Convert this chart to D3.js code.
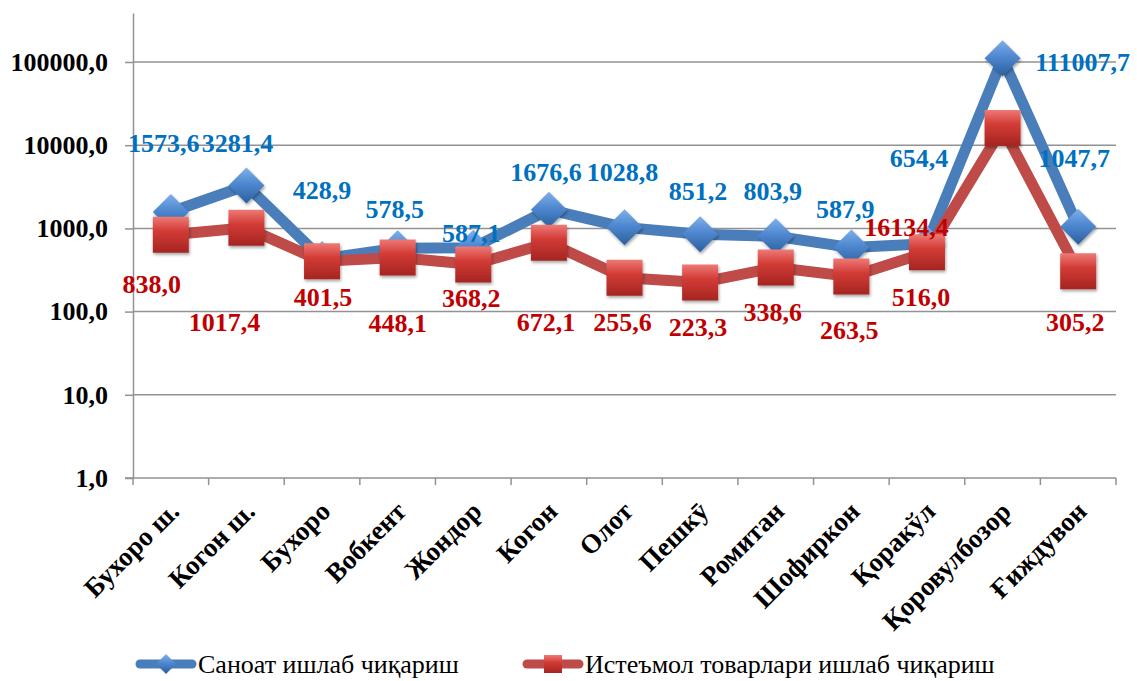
<!DOCTYPE html>
<html>
<head>
<meta charset="utf-8">
<script src="https://cdn.jsdelivr.net/npm/d3@7"></script>
<style>
  body { margin: 0; background: #fff; }
  svg text { font-family: "Liberation Serif", "Times New Roman", serif; }
</style>
</head>
<body>
<div id="chart"></div>
<script>
var categories = ["Бухоро ш.", "Когон ш.", "Бухоро", "Вобкент", "Жондор", "Когон", "Олот",
  "Пешкӯ", "Ромитан", "Шофиркон", "Қоракўл", "Қоровулбозор", "Ғиждувон"];
var industry = [1573.6, 3281.4, 428.9, 578.5, 587.1, 1676.6, 1028.8, 851.2, 803.9, 587.9, 654.4, 111007.7, 1047.7];
var consumer = [838.0, 1017.4, 401.5, 448.1, 368.2, 672.1, 255.6, 223.3, 338.6, 263.5, 516.0, 16134.4, 305.2];
var yTicks = [1, 10, 100, 1000, 10000, 100000];
var seriesNames = ["Саноат ишлаб чиқариш", "Истеъмол товарлари ишлаб чиқариш"];

// hand placed data labels (pixel offsets from the point)
var industryLabelOffsets = [[-7,-69],[-9,-43],[0,-69],[-3,-39],[-2,-15],[-3,-38],[-2,-55],[-2,-43],[-3,-45],[-6,-39],[-8,-86],[80,4],[-4,-69]];
var consumerLabelOffsets = [[-19,49],[-22,94],[1,36],[0,65],[-2,33],[-3,79],[-2,44],[-2,44],[-3,44],[-2,53],[-6,45],[-96,99],[-3,51]];

var width = 1137;
var height = 681;
var serif = "Liberation Serif";

var loc = d3.formatLocale({decimal: ",", thousands: " ", grouping: [3]});
var fmt = loc.format(".1f");

var svg = d3.select("#chart").append("svg")
  .attr("width", width)
  .attr("height", height)
  .attr("font-family", serif);

var defs = svg.append("defs");

var gb = defs.append("linearGradient").attr("id", "gBlue")
  .attr("x1", 0).attr("y1", 0).attr("x2", 0).attr("y2", 1);
gb.append("stop").attr("offset", "0%").attr("stop-color", "#7fb0ea");
gb.append("stop").attr("offset", "45%").attr("stop-color", "#4f88d0");
gb.append("stop").attr("offset", "100%").attr("stop-color", "#2a5f9e");

var gr = defs.append("linearGradient").attr("id", "gRed")
  .attr("x1", 0).attr("y1", 0).attr("x2", 0).attr("y2", 1);
gr.append("stop").attr("offset", "0%").attr("stop-color", "#ee7a76");
gr.append("stop").attr("offset", "40%").attr("stop-color", "#d23b36");
gr.append("stop").attr("offset", "100%").attr("stop-color", "#a52521");

var sh = defs.append("filter").attr("id", "shadow")
  .attr("x", "-30%").attr("y", "-30%").attr("width", "160%").attr("height", "160%");
sh.append("feDropShadow").attr("dx", 1).attr("dy", 2).attr("stdDeviation", 1.5)
  .attr("flood-color", "#000").attr("flood-opacity", 0.35);

var x = d3.scaleBand().domain(categories).range([133, 1116]);
var y = d3.scaleLog().domain([1, 388000]).range([478, 13]);
function cx(i) { return x(categories[i]) + x.bandwidth() / 2; }

//gridlines
svg.append("g").selectAll("line").data(yTicks.slice(1)).join("line")
  .attr("x1", 133).attr("x2", 1116)
  .attr("y1", function(d) { return y(d); }).attr("y2", function(d) { return y(d); })
  .attr("stroke", "#929292").attr("stroke-width", 1.5);

//y axis
var yAxis = svg.append("g")
  .attr("transform", "translate(133,0)")
  .call(d3.axisLeft(y).tickValues(yTicks).tickFormat(fmt).tickSize(8).tickSizeOuter(0))
  .attr("font-family", serif);
yAxis.select(".domain").attr("stroke", "#929292").attr("stroke-width", 1.5);
yAxis.selectAll(".tick line").attr("stroke", "#929292").attr("stroke-width", 1.5);
yAxis.selectAll(".tick text")
  .attr("x", -25)
  .attr("font-size", 26).attr("font-weight", "bold").attr("fill", "#000")
  .attr("font-family", serif);

//x axis
var xAxis = svg.append("g").attr("transform", "translate(0,478)");
xAxis.append("line").attr("x1", 125).attr("x2", 1116)
  .attr("stroke", "#929292").attr("stroke-width", 1.5);
var bounds = categories.map(function(c) { return x(c); }).concat([x.range()[1]]);
xAxis.selectAll(".tk").data(bounds).join("line").attr("class", "tk")
  .attr("x1", function(d) { return d; }).attr("x2", function(d) { return d; })
  .attr("y1", 0).attr("y2", 7)
  .attr("stroke", "#929292").attr("stroke-width", 1.5);
xAxis.selectAll("text").data(categories).join("text")
  .attr("transform", function(d, i) { return "translate(" + (cx(i) + 10) + ",35) rotate(-45)"; })
  .attr("text-anchor", "end")
  .attr("font-family", serif)
  .attr("font-size", 27).attr("font-weight", "bold").attr("fill", "#000")
  .text(function(d) { return d; });

var line = d3.line()
  .x(function(d, i) { return cx(i); })
  .y(function(d) { return y(d); });

var diamond = "M0,-18L18,0L0,18L-18,0Z";
var square = "M-18,-18L18,-18L18,18L-18,18Z";

function drawSeries(values, color, grad, shape) {
  svg.append("path")
    .datum(values)
    .attr("d", line)
    .attr("fill", "none")
    .attr("stroke", color)
    .attr("stroke-width", 11)
    .attr("stroke-linejoin", "round");
  svg.append("g").selectAll("path").data(values).join("path")
    .attr("d", shape)
    .attr("transform", function(d, i) { return "translate(" + cx(i) + "," + y(d) + ")"; })
    .attr("fill", "url(#" + grad + ")")
    .attr("filter", "url(#shadow)");
}

drawSeries(industry, "#4a7ebb", "gBlue", diamond);
drawSeries(consumer, "#be4b48", "gRed", square);

function drawLabels(values, offsets, color) {
  svg.append("g").selectAll("text").data(values).join("text")
    .attr("x", function(d, i) { return cx(i) + offsets[i][0]; })
    .attr("y", function(d, i) { return y(d) + offsets[i][1]; })
    .attr("dy", "0.35em")
    .attr("text-anchor", "middle")
    .attr("font-family", serif)
    .attr("font-size", 26).attr("font-weight", "bold").attr("fill", color)
    .text(function(d) { return fmt(d); });
}

drawLabels(industry, industryLabelOffsets, "#0070c0");
drawLabels(consumer, consumerLabelOffsets, "#c00000");

//legend
var legend = svg.append("g");
var legendItems = [
  {name: seriesNames[0], x: 136, color: "#4a7ebb", grad: "gBlue", shape: "M0,-10L10,0L0,10L-10,0Z"},
  {name: seriesNames[1], x: 523, color: "#be4b48", grad: "gRed", shape: "M-9,-9L9,-9L9,9L-9,9Z"}
];
legendItems.forEach(function(it) {
  legend.append("line")
    .attr("x1", it.x + 4).attr("x2", it.x + 56)
    .attr("y1", 664).attr("y2", 664)
    .attr("stroke", it.color).attr("stroke-width", 9).attr("stroke-linecap", "round");
  legend.append("path")
    .attr("d", it.shape)
    .attr("transform", "translate(" + (it.x + 30) + ",664)")
    .attr("fill", "url(#" + it.grad + ")");
  legend.append("text")
    .attr("x", it.x + 62).attr("y", 673)
    .attr("font-family", serif)
    .attr("font-size", 26).attr("fill", "#000")
    .text(it.name);
});
</script>
</body>
</html>
